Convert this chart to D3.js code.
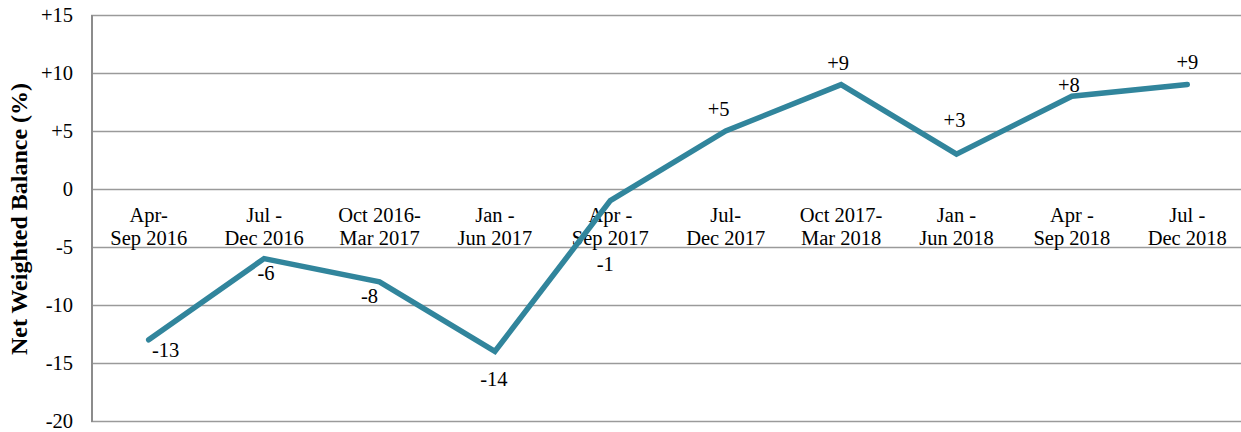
<!DOCTYPE html>
<html>
<head>
<meta charset="utf-8">
<script src="https://cdn.jsdelivr.net/npm/d3@7/dist/d3.min.js"></script>
<style>
  html, body { margin: 0; padding: 0; background: #fff; }
  svg { display: block; }
  svg text { font-family: "Liberation Serif", "Times New Roman", serif !important; fill: #000; }
</style>
</head>
<body>
<svg id="chart" width="1241" height="432"></svg>
<script>
// ---- data ----
const categories = [
  ["Apr-", "Sep 2016"],
  ["Jul -", "Dec 2016"],
  ["Oct 2016-", "Mar 2017"],
  ["Jan -", "Jun 2017"],
  ["Apr -", "Sep 2017"],
  ["Jul-", "Dec 2017"],
  ["Oct 2017-", "Mar 2018"],
  ["Jan -", "Jun 2018"],
  ["Apr -", "Sep 2018"],
  ["Jul -", "Dec 2018"]
];
const values = [-13, -6, -8, -14, -1, 5, 9, 3, 8, 9];
const valueLabels = ["-13", "-6", "-8", "-14", "-1", "+5", "+9", "+3", "+8", "+9"];
const tickValues = [15, 10, 5, 0, -5, -10, -15, -20];
const tickLabels = ["+15", "+10", "+5", "0", "-5", "-10", "-15", "-20"];
const yTitle = "Net Weighted Balance (%)";

// ---- drawing ----
(function () {
const svg = d3.select("#chart");
const pL = 91, pR = 1245, pT = 15, pB = 421;

const x = d3.scalePoint()
  .domain(d3.range(categories.length))
  .range([pL, pR])
  .padding(0.5);
const y = d3.scaleLinear().domain([-20, 15]).range([pB, pT]);

// gridlines
const gridAxis = d3.axisLeft(y)
  .tickValues(tickValues)
  .tickSize(-(1241 - pL))
  .tickFormat("");
const g = svg.append("g").attr("transform", `translate(${pL},0)`).call(gridAxis);
g.select(".domain").remove();
g.selectAll(".tick line").attr("stroke", "#9a9a9a").attr("stroke-width", 1.6);

// y tick labels
const labAxis = d3.axisLeft(y)
  .tickValues(tickValues)
  .tickSize(0)
  .tickPadding(0)
  .tickFormat((d, i) => tickLabels[i]);
const la = svg.append("g").attr("transform", `translate(73,0)`).call(labAxis);
la.attr("font-family", null).attr("font-size", null);
la.select(".domain").remove();
la.selectAll(".tick text")
  .attr("font-size", 20.5)
  .attr("fill", "#000")
  .attr("dy", "0.32em");

// left axis line
svg.append("line")
  .attr("x1", pL + 1).attr("x2", pL + 1)
  .attr("y1", y(15)).attr("y2", y(-20) + 1)
  .attr("stroke", "#8c8c8c").attr("stroke-width", 2);

// category labels
const cat = svg.append("g");
categories.forEach((c, i) => {
  const t = cat.append("text")
    .attr("text-anchor", "middle")
    .attr("font-size", 20.5);
  t.append("tspan").attr("x", x(i)).attr("y", 222).text(c[0]);
  t.append("tspan").attr("x", x(i)).attr("y", 245).text(c[1]);
});

// line
const line = d3.line().x((d, i) => x(i)).y(d => y(d));
svg.append("path")
  .datum(values)
  .attr("d", line)
  .attr("fill", "none")
  .attr("stroke", "#31859c")
  .attr("stroke-width", 5.5)
  .attr("stroke-linecap", "round")
  .attr("stroke-linejoin", "miter");

// data labels (placement offsets relative to each point)
const labelOffsets = [[17, 17], [2, 21], [-10, 21], [-1, 35], [-5, 70], [-7, -15], [-3, -15], [-2, -27], [-3, -4], [0, -16]];
svg.append("g").selectAll("text")
  .data(values)
  .join("text")
  .attr("x", (d, i) => x(i) + labelOffsets[i][0])
  .attr("y", (d, i) => y(d) + labelOffsets[i][1])
  .attr("text-anchor", "middle")
  .attr("font-size", 20.5)
  .text((d, i) => valueLabels[i]);

// y title
svg.append("text")
  .attr("transform", `translate(27,219) rotate(-90)`)
  .attr("text-anchor", "middle")
  .attr("font-size", 24)
  .attr("font-weight", "bold")
  .text(yTitle);
})();
</script>
</body>
</html>
